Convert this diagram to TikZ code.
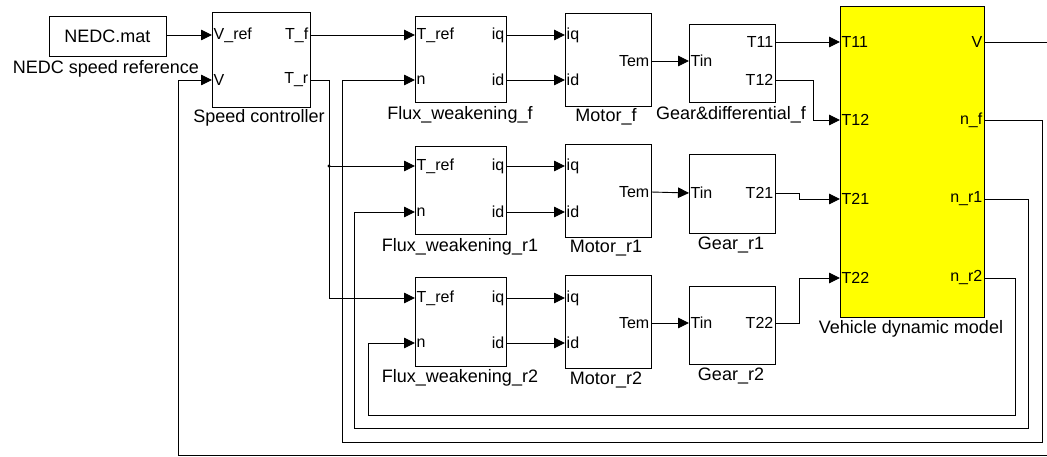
\documentclass[tikz,border=0pt]{standalone}
\usepackage{fontspec}
\setmainfont{Liberation Sans}
\usetikzlibrary{arrows.meta}
\newcommand\inport[4]{\coordinate (#1) at (#2,#3); \node[port,anchor=west] at (#1) {#4};}
\newcommand\outport[4]{\coordinate (#1) at (#2,#3); \node[port,anchor=east] at (#1) {#4};}
\begin{document}
\begin{tikzpicture}[x=1pt,y=-1pt,
  blk/.style={draw, line width=0.9pt, fill=white, inner sep=0pt, outer sep=0pt, anchor=north west, font=\fontsize{18}{20}\selectfont},
  port/.style={font=\fontsize{16}{18}\selectfont, inner sep=1.5pt},
  lbl/.style={font=\fontsize{18}{20}\selectfont, inner sep=0pt},
  wire/.style={line width=0.9pt},
  sig/.style={wire, -{Triangle[length=11pt,width=10.5pt]}},
]
\path[use as bounding box] (0,0) rectangle (1047,457);
\clip (0,0) rectangle (1047,457);

% blocks
\node[blk, minimum width=117pt, minimum height=40pt] (nedc) at (49,16) {NEDC.mat};
\node[lbl] (nedcl) at (106,69) {NEDC speed reference};

\node[blk, minimum width=98pt, minimum height=95pt] (sc) at (212,12) {};
\node[lbl] (scl) at (259,118) {Speed controller};
\inport{sc-i1}{212}{35}{V\_ref}
\inport{sc-i2}{212}{80}{V}
\outport{sc-o1}{310}{35}{T\_f}
\outport{sc-o2}{310}{80}{T\_r}

% front branch
\node[blk, minimum width=91pt, minimum height=86pt] (fwf) at (415,16) {};
\node[lbl] (fwfl) at (460,115) {Flux\_weakening\_f};
\inport{fwf-i1}{415}{35}{T\_ref}
\inport{fwf-i2}{415}{80}{n}
\outport{fwf-o1}{506}{35}{iq}
\outport{fwf-o2}{506}{80}{id}

\node[blk, minimum width=86pt, minimum height=93pt] (mf) at (565,13) {};
\node[lbl] (mfl) at (606,117) {Motor\_f};
\inport{mf-i1}{565}{35}{iq}
\inport{mf-i2}{565}{80}{id}
\outport{mf-o}{651}{61}{Tem}

\node[blk, minimum width=86pt, minimum height=78pt] (gf) at (689,24) {};
\node[lbl] (gfl) at (731,115) {Gear\&differential\_f};
\inport{gf-i}{689}{61}{Tin}
\outport{gf-o1}{775}{42}{T11}
\outport{gf-o2}{775}{80}{T12}

% rear 1
\node[blk, minimum width=91pt, minimum height=88pt] (fw1) at (415,146) {};
\node[lbl] (fw1l) at (460,247) {Flux\_weakening\_r1};
\inport{fw1-i1}{415}{166}{T\_ref}
\inport{fw1-i2}{415}{212}{n}
\outport{fw1-o1}{506}{166}{iq}
\outport{fw1-o2}{506}{212}{id}

\node[blk, minimum width=86pt, minimum height=93pt] (m1) at (565,144) {};
\node[lbl] (m1l) at (606,248) {Motor\_r1};
\inport{m1-i1}{565}{166}{iq}
\inport{m1-i2}{565}{212}{id}
\outport{m1-o}{651}{192}{Tem}

\node[blk, minimum width=86pt, minimum height=79pt] (g1) at (689,154) {};
\node[lbl] (g1l) at (731,245) {Gear\_r1};
\inport{g1-i}{689}{193}{Tin}
\outport{g1-o}{775}{193}{T21}

% rear 2
\node[blk, minimum width=91pt, minimum height=89pt] (fw2) at (415,277) {};
\node[lbl] (fw2l) at (460,378) {Flux\_weakening\_r2};
\inport{fw2-i1}{415}{298}{T\_ref}
\inport{fw2-i2}{415}{343}{n}
\outport{fw2-o1}{506}{298}{iq}
\outport{fw2-o2}{506}{343}{id}

\node[blk, minimum width=86pt, minimum height=93pt] (m2) at (565,275) {};
\node[lbl] (m2l) at (606,380) {Motor\_r2};
\inport{m2-i1}{565}{298}{iq}
\inport{m2-i2}{565}{343}{id}
\outport{m2-o}{651}{323}{Tem}

\node[blk, minimum width=86pt, minimum height=78pt] (g2) at (689,286) {};
\node[lbl] (g2l) at (731,376) {Gear\_r2};
\inport{g2-i}{689}{323}{Tin}
\outport{g2-o}{775}{323}{T22}

% vehicle
\node[blk, fill={rgb,255:red,255;green,255;blue,0}, minimum width=144pt, minimum height=311pt] (vdm) at (840,6) {};
\node[lbl] (vdml) at (911,329) {Vehicle dynamic model};
\inport{v-i1}{840}{42}{T11}
\inport{v-i2}{840}{120}{T12}
\inport{v-i3}{840}{199}{T21}
\inport{v-i4}{840}{278}{T22}
\outport{v-o1}{984}{42}{V}
\outport{v-o2}{984}{120}{n\_f}
\outport{v-o3}{984}{199}{n\_r1}
\outport{v-o4}{984}{278}{n\_r2}

% connectors
\draw[sig] (nedc.east |- sc-i1) -- (sc-i1);
\draw[sig] (sc-o1) -- (fwf-i1);
\coordinate (br) at (329,166);
\draw[sig] (sc-o2) -- (329,80) -- (329,298) -- (fw2-i1);
\draw[sig] (br) -- (fw1-i1);
\fill (br) circle[radius=1.6pt];

\draw[sig] (fwf-o1) -- (mf-i1);
\draw[sig] (fwf-o2) -- (mf-i2);
\draw[sig] (fw1-o1) -- (m1-i1);
\draw[sig] (fw1-o2) -- (m1-i2);
\draw[sig] (fw2-o1) -- (m2-i1);
\draw[sig] (fw2-o2) -- (m2-i2);

\draw[sig] (mf-o) -- (gf-i);
\draw[sig] (m1-o) -- (g1-i);
\draw[sig] (m2-o) -- (g2-i);

\draw[sig] (gf-o1) -- (v-i1);
\draw[sig] (gf-o2) -- (813,80) -- (813,120) -- (v-i2);
\draw[sig] (g1-o) -- (799,193) -- (799,199) -- (v-i3);
\draw[sig] (g2-o) -- (799,323) -- (799,278) -- (v-i4);

% feedback loops
\draw[sig] (v-o1) -- (1060,42) -- (1060,455) -- (178,455) -- (178,80) -- (sc-i2);
\draw[sig] (v-o2) -- (1042,120) -- (1042,442) -- (342,442) -- (342,80) -- (fwf-i2);
\draw[sig] (v-o3) -- (1028,199) -- (1028,428) -- (354,428) -- (354,212) -- (fw1-i2);
\draw[sig] (v-o4) -- (1015,278) -- (1015,415) -- (368,415) -- (368,343) -- (fw2-i2);
\end{tikzpicture}
\end{document}
